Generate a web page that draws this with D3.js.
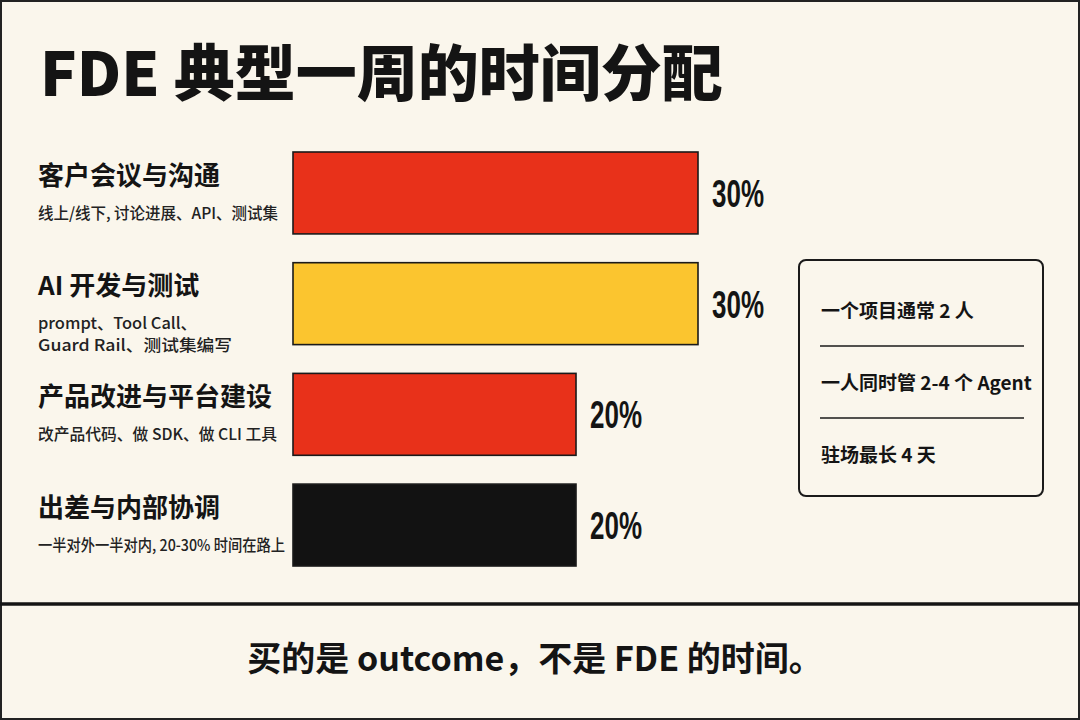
<!DOCTYPE html>
<html>
<head>
<meta charset="utf-8">
<script src="https://cdn.jsdelivr.net/npm/d3@7/dist/d3.min.js"></script>
<style>
  html, body { margin: 0; padding: 0; background: #faf6ec; }
  svg { display: block; }
</style>
</head>
<body>
<svg id="chart" width="1080" height="720"></svg>
<script>
// ---- data ----
const title = "FDE 典型一周的时间分配";
const categories = ["客户会议与沟通", "AI 开发与测试", "产品改进与平台建设", "出差与内部协调"];
const subtitles = [
  ["线上/线下, 讨论进展、API、测试集"],
  ["prompt、Tool Call、", "Guard Rail、测试集编写"],
  ["改产品代码、做 SDK、做 CLI 工具"],
  ["一半对外一半对内, 20-30% 时间在路上"]
];
const values = [30, 30, 20, 20];
const valueLabels = ["30%", "30%", "20%", "20%"];
const notes = ["一个项目通常 2 人", "一人同时管 2-4 个 Agent", "驻场最长 4 天"];
const footer = "买的是 outcome，不是 FDE 的时间。";

// ---- styles ----
const barColors = ["#e8311a", "#fbc52f", "#e8311a", "#121212"];
const subWidths = [[240], [159, 194], [239], [247]];
const ink = "#141414";
const CJK = "'Noto Sans CJK SC', 'Noto Sans', sans-serif";
const NUM = "'Liberation Sans', 'Roboto', sans-serif";

const svg = d3.select("#chart");
const W = 1080, H = 720;

svg.append("rect").attr("x", 0).attr("y", 0).attr("width", W).attr("height", H)
  .attr("fill", "#faf6ec");
// outer border
svg.append("rect").attr("x", 1).attr("y", 1).attr("width", W - 2).attr("height", H - 2)
  .attr("fill", "none").attr("stroke", "#222").attr("stroke-width", 2);

// title
svg.append("text").attr("x", 40).attr("y", 96)
  .attr("font-family", CJK).attr("font-weight", 900).attr("font-size", 61)
  .attr("fill", ink).text(title);

// scales
const x = d3.scaleLinear().domain([-3.2, 30]).range([293, 698]);
const y = d3.scaleBand().domain(categories).range([152, 566]).paddingInner(0.26).paddingOuter(0);

const rows = svg.append("g").selectAll("g").data(categories).join("g");

rows.append("rect")
  .attr("x", x(-3.2))
  .attr("y", d => y(d))
  .attr("width", (d, i) => x(values[i]) - x(-3.2))
  .attr("height", y.bandwidth())
  .attr("fill", (d, i) => barColors[i])
  .attr("stroke", "#1a1a1a").attr("stroke-width", 1.6);

rows.append("text")
  .attr("x", (d, i) => x(values[i]) + 14)
  .attr("y", d => y(d) + y.bandwidth() / 2 + 14)
  .attr("font-family", NUM).attr("font-weight", 700).attr("font-size", 39)
  .attr("textLength", 52).attr("lengthAdjust", "spacingAndGlyphs")
  .attr("fill", ink)
  .text((d, i) => valueLabels[i]);

// category labels
rows.each(function(d, i) {
  const g = d3.select(this);
  const n = subtitles[i].length;
  const blockH = 60 + (n - 1) * 22;
  const top = y(d) + y.bandwidth() / 2 - blockH / 2 + (n - 1) * 10;
  g.append("text").attr("x", 38).attr("y", top + 22)
    .attr("font-family", CJK).attr("font-weight", 700).attr("font-size", 26)
    .attr("fill", ink).text(d);
  subtitles[i].forEach((s, j) => {
    g.append("text").attr("x", 38).attr("y", top + 56 + j * 22)
      .attr("font-family", CJK).attr("font-weight", 500).attr("font-size", 16)
      .attr("textLength", subWidths[i][j]).attr("lengthAdjust", "spacingAndGlyphs")
      .attr("fill", "#222").text(s);
  });
});

// notes box
const box = svg.append("g");
box.append("rect").attr("x", 799).attr("y", 260).attr("width", 244).attr("height", 236)
  .attr("rx", 7).attr("fill", "#faf6ec").attr("stroke", "#1a1a1a").attr("stroke-width", 2);
const noteY = d3.scalePoint().domain(notes).range([318, 462]);
box.selectAll("text.note").data(notes).join("text").attr("class", "note")
  .attr("x", 821).attr("y", d => noteY(d))
  .attr("font-family", CJK).attr("font-weight", 600).attr("font-size", 19)
  .attr("fill", ink).text(d => d);
box.selectAll("line.div").data(notes.slice(1)).join("line").attr("class", "div")
  .attr("x1", 820).attr("x2", 1024)
  .attr("y1", d => noteY(d) - 44).attr("y2", d => noteY(d) - 44)
  .attr("stroke", "#1a1a1a").attr("stroke-width", 1.5);

// separator
svg.append("line").attr("x1", 0).attr("x2", W).attr("y1", 604).attr("y2", 604)
  .attr("stroke", "#141414").attr("stroke-width", 3.5);

// footer
svg.append("text").attr("x", 535).attr("y", 671).attr("text-anchor", "middle")
  .attr("font-family", CJK).attr("font-weight", 700).attr("font-size", 34)
  .attr("fill", ink).text(footer);
</script>
</body>
</html>
